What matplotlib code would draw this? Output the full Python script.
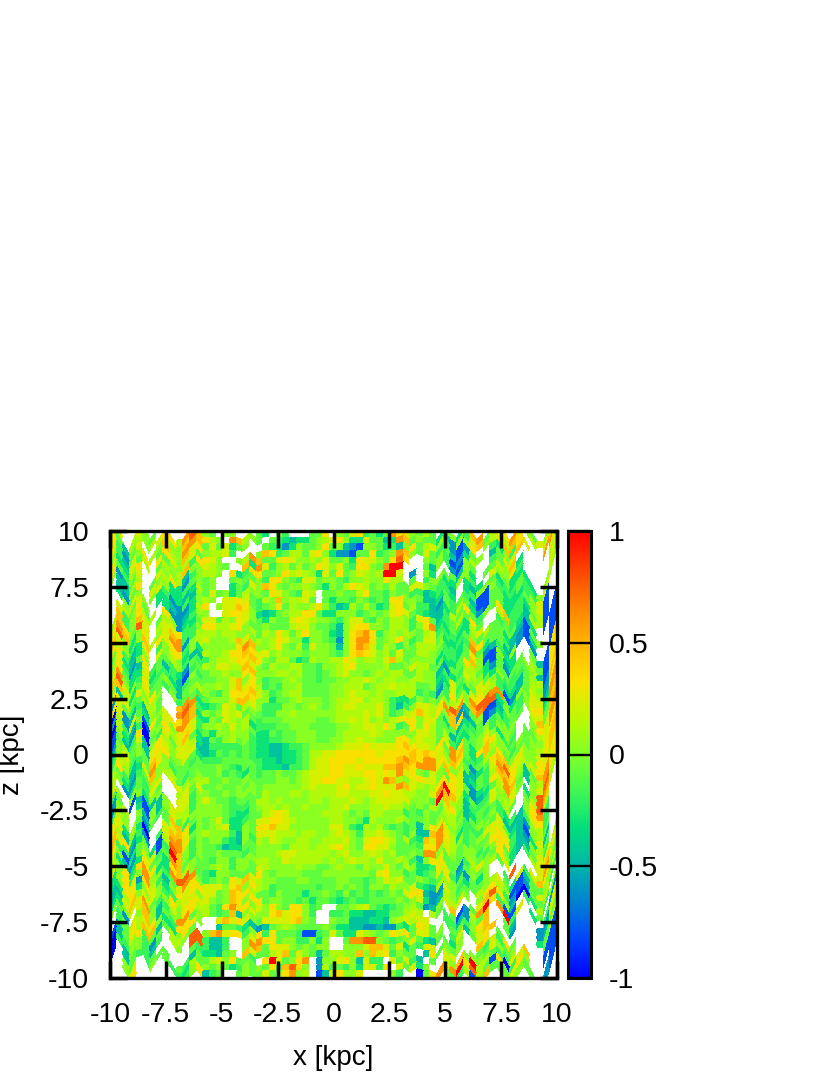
# -*- coding: utf-8 -*-
import matplotlib
matplotlib.use("Agg")
import matplotlib.pyplot as plt
from matplotlib.colors import ListedColormap
import numpy as np

plt.rcParams["font.family"] = ["Liberation Sans", "DejaVu Sans"]

# values, one letter per cell, "." = no data (white)
levels = {"a": -1.0, "b": -0.8, "c": -0.6, "d": -0.45, "e": -0.3, "f": -0.18, "g": -0.08,
          "h": 0.03, "i": 0.12, "j": 0.22, "k": 0.32, "l": 0.45, "m": 0.6, "n": 0.75, "o": 1.0}

rows = [
    "jk..jhg.k. imnlhg.hh. ..ge.hf... ggk.hgjkfg egmkjhgig. gheflm.h.k ml.gjhk",
    "kj.ijhi.kk hlnlkih.ml ihg.gfedee ghijkheejg gdemlghgge dchfjlgiji lkhi.jl",
    "kgdhih.jkh hmmlgjgjeg h..gfecehg ghkghdcbhh gefdhkgijh fcbhk.hijl fk...mj",
    "jfcgj.ihli hljkhiijf. ..hlkfgiig jkheccbggk fghmlhgjgf gdbcgh.feh jlj...m",
    "hfdjhk.gkj hijgkjh..h imlggjkjhh ihjgghekjj hgknk..hgh fbcei..dgj l.....k",
    "jeejgi.kgh ilfkjihg.. lemjfhigig hkjhjgfkkh gmoo...gdh fcbhg..fgh ke....i",
    "kgfhk..gih idhhiih.ke fkkgghkiji hejgkghjih iooj.c.he. .gdhe.ggih ef....j",
    "hcdgj.gjhk ecfhgh..gh gghfkkhgfj jghhgfhhih hkii.g.fhh gehhfe.jhg ee...hi",
    ".ddii.jhie efghgh..eg fjhlkhghhi hgehgikjig hgiggjjhgf ed.edhhgef fgeehji",
    ".dcgk.hjhe edeigjgheg ihhgkjhgfj i.gghggikg gfhggffdef fe.efbbhfe egffjb.",
    ".ehjh..efc cfdhih.jjk jgfihlhiij g.geggfhgf gfkkhhgdde gfgfdbbgge eefhjb.",
    "..igjh.eed ccehk.hjjl kgfghkgihh ikhfdeigig efjkgiffdc gfigecbgge ffghib.",
    ".jfhkgi.ec cdeih..jkk jhedeghiik kgeehhhfgh ghjkjgfedd eigkgfhgkl ffegib.",
    ".lfhki..kh cefhjjgihk jhgehggjkj ihhgfhjjgf hgiihfjkgd fgigkg..ig ffdi.b.",
    "ilkhlj.gij kfegkkiijk hgghgggijj hggfdhjkkh hgiihfhkme fgfeij..fg gede..b",
    "jmlgnj.ijl mffhiihiih higihkigik hhgedhklmk fhihihgijf efeehgigge ddbgh.b",
    "knhehkihjm mcfijhhhil jhihikjhhe hhgfchkmmk ghikhfgjjg fefglkgggf dcbe..b",
    "ljhfhl.kjk kfhihhhhhk mlhhikhgif jhhgdhkmlj gihfhgiiih efefmgeggd hcbc..b",
    "jjfdej.fhj heheihhikk lkjjhihhhg hhhgfhklkj higjggiihg ffegkhcdfe e..gdbb",
    "gkedeh.jhi hfddfhiijk klkhgiigef ihhiikjhii hjlighhhhe fegglhbbhd e..hgbk",
    "hjfcgkfggf ecgfihjjii ljhgihhiig gfhhijkhhh higghjiigg eggkigebgc gg.idbk",
    "ikgedjegdf dbfgghhihh klhhhiihig gfghijhhgh ihiiggihhd cefiihecgg fghhibk",
    "jmheejfffe dfhfgghhjl hkhfgghihg gfgghhiiji hiihhiihhe fjgjhjgehf ffgihck",
    "lnjhfkgghg dggghhihjl jkifgfhhig ggghhiiigh iijiiigghd ejfhgjjhfe edgiicl",
    "hliegjkgfh fghihgfhkk kljhfghiig ggghhijiih ihhiiifgfc fkgejkiifb cdgjjdk",
    "kdjgjhih.. lmgfghhhjl lkhhegghih hhghiijjhi ihfeefhghg fijhmnnmmg ehgjkem",
    "cjgfgiig.. mnmeefgjig ijhfffhhgh ihghijjiii jhfdfhjjij hnmhlmnneh gfhkjgm",
    "kjcdfdhg.. kmlfhghjij ghgffhhihh hhhhiiiiji jhfgijljik mlcdghbbdf gfhjlgl",
    "ajcjgekhjk mmleehgjih igfggghhhh hgghiijijh ihijkkhjjg hlkcdgbcef hg.hkjl",
    "cifdhbhgjh jkjfhhihjh iefffgghhh gggghhiijj ikifgkhkig egdefghfgh g..hijm",
    "aiecfaghki jljfgehhih hgeegfgghh hggghiiiij ihhhhhjjig gdffghifhh f..ghjm",
    "bhdfkahfjg jjgedgfhig hfeeffgghh hgghhiijii hhhkkijiig ifeeghkhef g.ghijk",
    "bgigjdjkih jjiedfffff gfeeddeffg hhhhijjjkj jjjklkjjik jmkgeklkhh fhghjkl",
    "chjghdkkjh hjjddegfgf gfeeddeefg iijjkkkkkk jkkkklklkj gmlgeflihg hgghkjl",
    "ehifhgljkg gggefffggg gffeedeefg ijjkkkkjkk kkklmlkmmj hlkgfgihkl jjhhkjl",
    "fjhdfgmkhf ggfggghgfe ggfeeedffg ijjkkjjkjj jllmlkmmmk jhhfcegkln kjhjlmj",
    "hkfdejlhhi gfgggghfgf egfgghgghi jjjkkjjjkk jkjmjkhgjh lkjgdgfjml kiigimk",
    "igecfgihij jhghigghgg hgggghhghi jjkkjjiijk jmlihjkjjh gkjdegfilm lhdhjnk",
    "ihcegfjj.. ijhigghggh ghghhhhhhi jiiijkijjk jjjmljihik kkjdcefkjm jgdhnmi",
    "j..hgfhg.. jjgjhgghgh hhgihhhiih iiiijjiiij jkjjiihhjm oljgcdegih jh.hnli",
    "fi.bhedh.. jjfhjhggfg ggiihihhhh iihiiijihi jjjjjhhhgo lihegffjhi g.eini.",
    "cgi.dbhdhj iifhhhhgff fghiihihhi hhhiijhhhi ijiihghgih lkhdfggjhi ..gkmf.",
    "chh.ebhdhj gifhhhhgfe eggijkjhhh hhiiihghgi ihhhfgfhgg jigdegfgfe f.hkkf.",
    "fih.hdgfgl lfhhghjgee fgjjkkjihh hhhiihhgei hhhihgghgh iihdghghfd ddhjif.",
    "jjeigc..gj lkghghijee hgkkljjhhh hhhjjhfeih igfgfgdhkj hhgfffhgjg edfhig.",
    "kjdhea..jl mjehihhhfd hgjjjiiihi ihhijihfii jihgfhddlm jiefghjjjj fdchjd.",
    "likdfc.fjm mkghghhfed hfihjihhii hhiiijhgjk kjigifeljm kihfgggjkk fdbeig.",
    "ljfcegebin lhfhggfdee gghhhhgiii hiijkihgkk jjhgggfkkm jigfhfhkkg edchjf.",
    "kfbeghjbfo lhfhgghggg fghhhijjii iiihijhhij ihigghgmmh jhghhgfhkh eddgjj.",
    "ihdcgjgfgm lgfhgfhhfh hhiihhjiii iihihijiih jhhihfdhkj ggghijhgkj ..fijli",
    "iekeekkgek lihgghihfh hgjihhhhih hgghihhgih hjhgiheefk ggcfhghig. n...jmk",
    "jhkfkmheem nnhgfehhgg ggkhghhhhg gghhhhhhhg jkhhfgefgj jfdgheh..f ...jlkh",
    "ehkjhmihfg jmmgfghgkj ljihhggghh gggghhggfg hjijgghgfg khgcggh..g ejfgghg",
    "ehkkckjfdh kjkhjjjhkl hkihfggggg gfgghghgfh hgihhjfedi hhfegihijh bbdgjii",
    "deikehjhef ijkkjjghlk kiggfhggge gghgfhfgfg fghgjkkdcc jhgg.hkkif cbcggif",
    "ddjlhjghfk hjjhjhghlk hkkghhggfg eggfefgffg ggghghjecd iijh.jlnkh daaeif.",
    "eehjjmhfhj hkkjigfkmk khjhkhgkkh fg..gghijg fefghigcdh jl..gmokfb b.f.g.h",
    "hgc.jlhdfh mmkiigfgld hjhhkljkkh f..ffgeedd eeggiji.ig .gbcigl.mo fj.e.fc",
    ".fgjhlkdgf kkgh..jljk jhgjjjjklh g..hggddde edhijijj.. ffdchkl..g d...ccj",
    ".fgkijlhee hkkh..dggf edcdghihgg gghgeeddcc dccfegkjg. fggfhjl..g c...cdj",
    "bdgjilgdgi ihg.hlmjkk fhkfkgggfb bfgjgeejih ghkjkgjjgh .fjdgjkl.. ....egg",
    "adfhkfcg.i h.nnfddf.. hjmkkghhff heh..gmmnn hgfghjgedg .eh..lk.gk g....gi",
    "afdhhfdf.. ..nnfddf.. hmlgkjjhgh ghh..hhhjl ljgjegfjj. ggh..gfjfg h....bb",
    "a.dghfg... ..gfeedgh. ljggijlgjh gdgiihhlhl jkfhgg.dkg hj..hhgjhf j....bb",
    "..hgffhgg. gfdggijhkg gf.kojghkm .chhjkhdjf f.jgjfd.g. jhlhoiigfa fjl...b",
    "..hj....gf feighghgef hghgkflnkh .cifgfhejj fk.jgjeh.. jmoknigbkg jkh..cb",
    "...k...... gfhkdfg..g hggjghkmhi .bdjkhhj.. ..hf..agkm ggfibhlggg hhgggcb",
]

# vertical offset of each column edge [kpc], read from the chevrons
column_offset = [-0.4, 0.5, 0.0, -0.5, 0.3, 0.4, -0.4, 0.1, 0.5, 0.1, -0.4, -0.4, 0.1, 0.4,
                 0, 0, 0, 0, 0, 0, -0.1, 0.2, -0.1, 0, 0, 0, 0, 0, 0, 0, 0, 0, 0, 0,
                 0, 0, 0, 0, 0, 0, 0, 0, 0, 0, 0.1, -0.1, 0.1, 0, 0, -0.1, 0.4, -0.1, -0.3, 0.3,
                 0, -0.4, -0.1, 0.3, 0.5, 0, -0.5, 0.1, 0.6, 0.1, -0.5, -0.5, 0.5, 1.8]

ticks = [-10, -7.5, -5, -2.5, 0, 2.5, 5, 7.5, 10]
tick_labels = ["-10", "-7.5", "-5", "-2.5", "0", "2.5", "5", "7.5", "10"]
cb_ticks = [-1, -0.5, 0, 0.5, 1]
cb_labels = ["-1", "-0.5", "0", "0.5", "1"]

ncol = 67
z = np.full((len(rows), ncol), np.nan)
for j, row in enumerate(rows):
    row = row.replace(" ", "").ljust(ncol, "h")[:ncol]
    for i, c in enumerate(row):
        if c != ".":
            z[j, i] = levels[c]
z = np.ma.masked_invalid(z)

# gnuplot palette rgbformulae 22,13,-31
g = np.linspace(0, 1, 256)
r_ = np.clip(3 * g - 1, 0, 1)
g_ = np.clip(np.sin(np.pi * g), 0, 1)
b_ = np.clip(2 * (1 - g) - 0.84, 0, 1)
cmap = ListedColormap(np.c_[r_, g_, b_])
cmap.set_bad("white")

x_edges = np.linspace(-10, 10, ncol + 1)
y_edges = np.linspace(10, -10, len(rows) + 1)
X, Y = np.meshgrid(x_edges, y_edges)
Y = Y + np.array(column_offset)

W, H = 830.0, 1075.0
fig = plt.figure(figsize=(8.3, 10.75), dpi=100)
ax = fig.add_axes([110 / W, 1 - 978 / H, 447 / W, 447 / H])
mesh = ax.pcolormesh(X, Y, z, cmap=cmap, vmin=-1, vmax=1, shading="flat", edgecolors="face", linewidth=0.2)
ax.set_xlim(-10, 10)
ax.set_ylim(-10, 10)
ax.set_xticks(ticks)
ax.set_xticklabels(tick_labels)
ax.set_yticks(ticks)
ax.set_yticklabels(tick_labels)
ax.tick_params(direction="in", length=12, width=2.5, top=True, right=True, labelsize=20.5)
ax.tick_params(axis="x", pad=17)
ax.tick_params(axis="y", pad=15)
for s in ax.spines.values():
    s.set_linewidth(2.4)
ax.set_xlabel("x [kpc]", fontsize=20)
ax.set_ylabel("z [kpc]", fontsize=20)
ax.xaxis.set_label_coords(0.5, -0.15)
ax.yaxis.set_label_coords(-0.19, 0.5)

cax = fig.add_axes([568 / W, 1 - 978 / H, 23 / W, 447 / H])
cb = fig.colorbar(mesh, cax=cax)
cb.set_ticks(cb_ticks)
cb.set_ticklabels(cb_labels)
cb.ax.tick_params(direction="in", length=17, width=1.7, labelsize=20.5, pad=13)
cb.outline.set_linewidth(2.2)

fig.savefig("out.png", dpi=100)
